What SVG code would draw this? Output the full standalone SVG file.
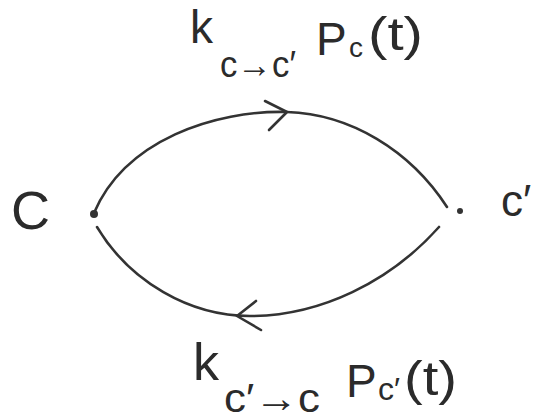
<svg xmlns="http://www.w3.org/2000/svg" width="539" height="419" viewBox="0 0 539 419">
<style>
.t{font-family:"Liberation Sans","DejaVu Sans",sans-serif;fill:#2b2b2b}
.e{fill:none;stroke:#333;stroke-width:2.6;stroke-linecap:round;stroke-linejoin:round}
</style>
<rect width="539" height="419" fill="#fff"/>
<g id="node-c">
<circle cx="94" cy="214" r="4" fill="#333"/>
<text class="t" x="11" y="229" font-size="54">C</text>
</g>
<g id="node-c-prime">
<circle cx="460" cy="211" r="3" fill="#333"/>
<text class="t" x="501" y="216" font-size="44">c′</text>
</g>
<g id="connectors">
<path class="e" d="M94 213 C125 140 215 110 287 112 C350 114 410 150 447 207"/>
<path class="e" d="M265 101 L287 112 L269 130"/>
<path class="e" d="M97 227 C130 282 190 316 250 316 C320 316 390 282 439 227"/>
<path class="e" d="M256 301 L237 316 L261 330"/>
</g>
<g id="label-top">
<text class="t" x="190" y="43" font-size="46">k</text>
<text class="t" x="220" y="77" font-size="36" textLength="76" lengthAdjust="spacingAndGlyphs">c→c′</text>
<text class="t" x="316" y="55" font-size="46">P</text>
<text class="t" x="349" y="57" font-size="28">c</text>
<text class="t" x="368" y="50" font-size="46" textLength="55" lengthAdjust="spacingAndGlyphs">(t)</text>
</g>
<g id="label-bottom">
<text class="t" x="193" y="380" font-size="52">k</text>
<text class="t" x="224" y="412" font-size="40" textLength="96" lengthAdjust="spacingAndGlyphs">c′→c</text>
<text class="t" x="346" y="397" font-size="46">P</text>
<text class="t" x="378" y="400" font-size="32">c′</text>
<text class="t" x="404" y="395" font-size="48" textLength="53" lengthAdjust="spacingAndGlyphs">(t)</text>
</g>
</svg>
